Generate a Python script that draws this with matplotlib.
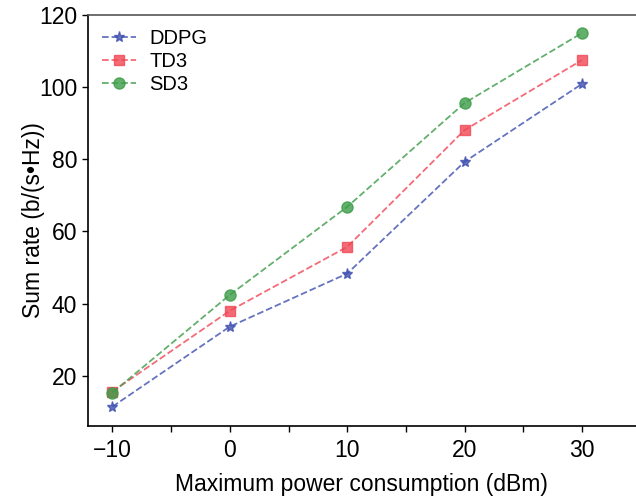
import matplotlib
matplotlib.use("Agg")
from matplotlib import pyplot as plt
from matplotlib.ticker import MultipleLocator

plt.rcParams['font.family'] = ['Liberation Sans', 'DejaVu Sans']

# power levels (dBm)
power = [-10, 0, 10, 20, 30]

# sum rate per algorithm
ddpg = [11.4, 33.6, 48.3, 79.3, 100.9]
td3 = [15.6, 38.0, 55.7, 88.1, 107.5]
sd3 = [15.3, 42.4, 66.8, 95.6, 115.0]

fig = plt.figure(figsize=(6.36, 4.99), dpi=100)
ax = fig.add_axes([0.138, 0.146, 0.862, 0.824])

ax.plot(power, ddpg, '--', marker='*', color='#3f50b0', alpha=0.8, markersize=8, lw=1.3, label='DDPG')
ax.plot(power, td3, '--', marker='s', color='#f04655', alpha=0.8, markersize=7, lw=1.3, label='TD3')
ax.plot(power, sd3, '--', marker='o', color='#3c9c48', alpha=0.8, markersize=8, lw=1.3, label='SD3')

ax.set_xlim(-12.1, 34.6)
ax.set_ylim(6, 120)
ax.xaxis.set_major_locator(MultipleLocator(10))
ax.xaxis.set_minor_locator(MultipleLocator(5))
ax.set_yticks([20, 40, 60, 80, 100, 120])
ax.tick_params(axis='both', which='major', labelsize=16.5, length=4, width=1)
ax.tick_params(axis='x', which='major', pad=5)
ax.tick_params(axis='x', which='minor', length=4, width=1)
ax.spines['right'].set_visible(False)
for s in ['left', 'bottom', 'top']:
    ax.spines[s].set_linewidth(1.2)
ax.spines['top'].set_color('#555555')

ax.set_xlabel('Maximum power consumption (dBm)', fontsize=16.5, labelpad=8)
ax.set_ylabel('Sum rate (b/(s•Hz))', fontsize=16.5, labelpad=-4)

ax.legend(loc='upper left', frameon=False, fontsize=14.5, handlelength=1.7,
          handletextpad=0.65, borderaxespad=0.3, labelspacing=0.2)

fig.savefig('out.png', dpi=100)
